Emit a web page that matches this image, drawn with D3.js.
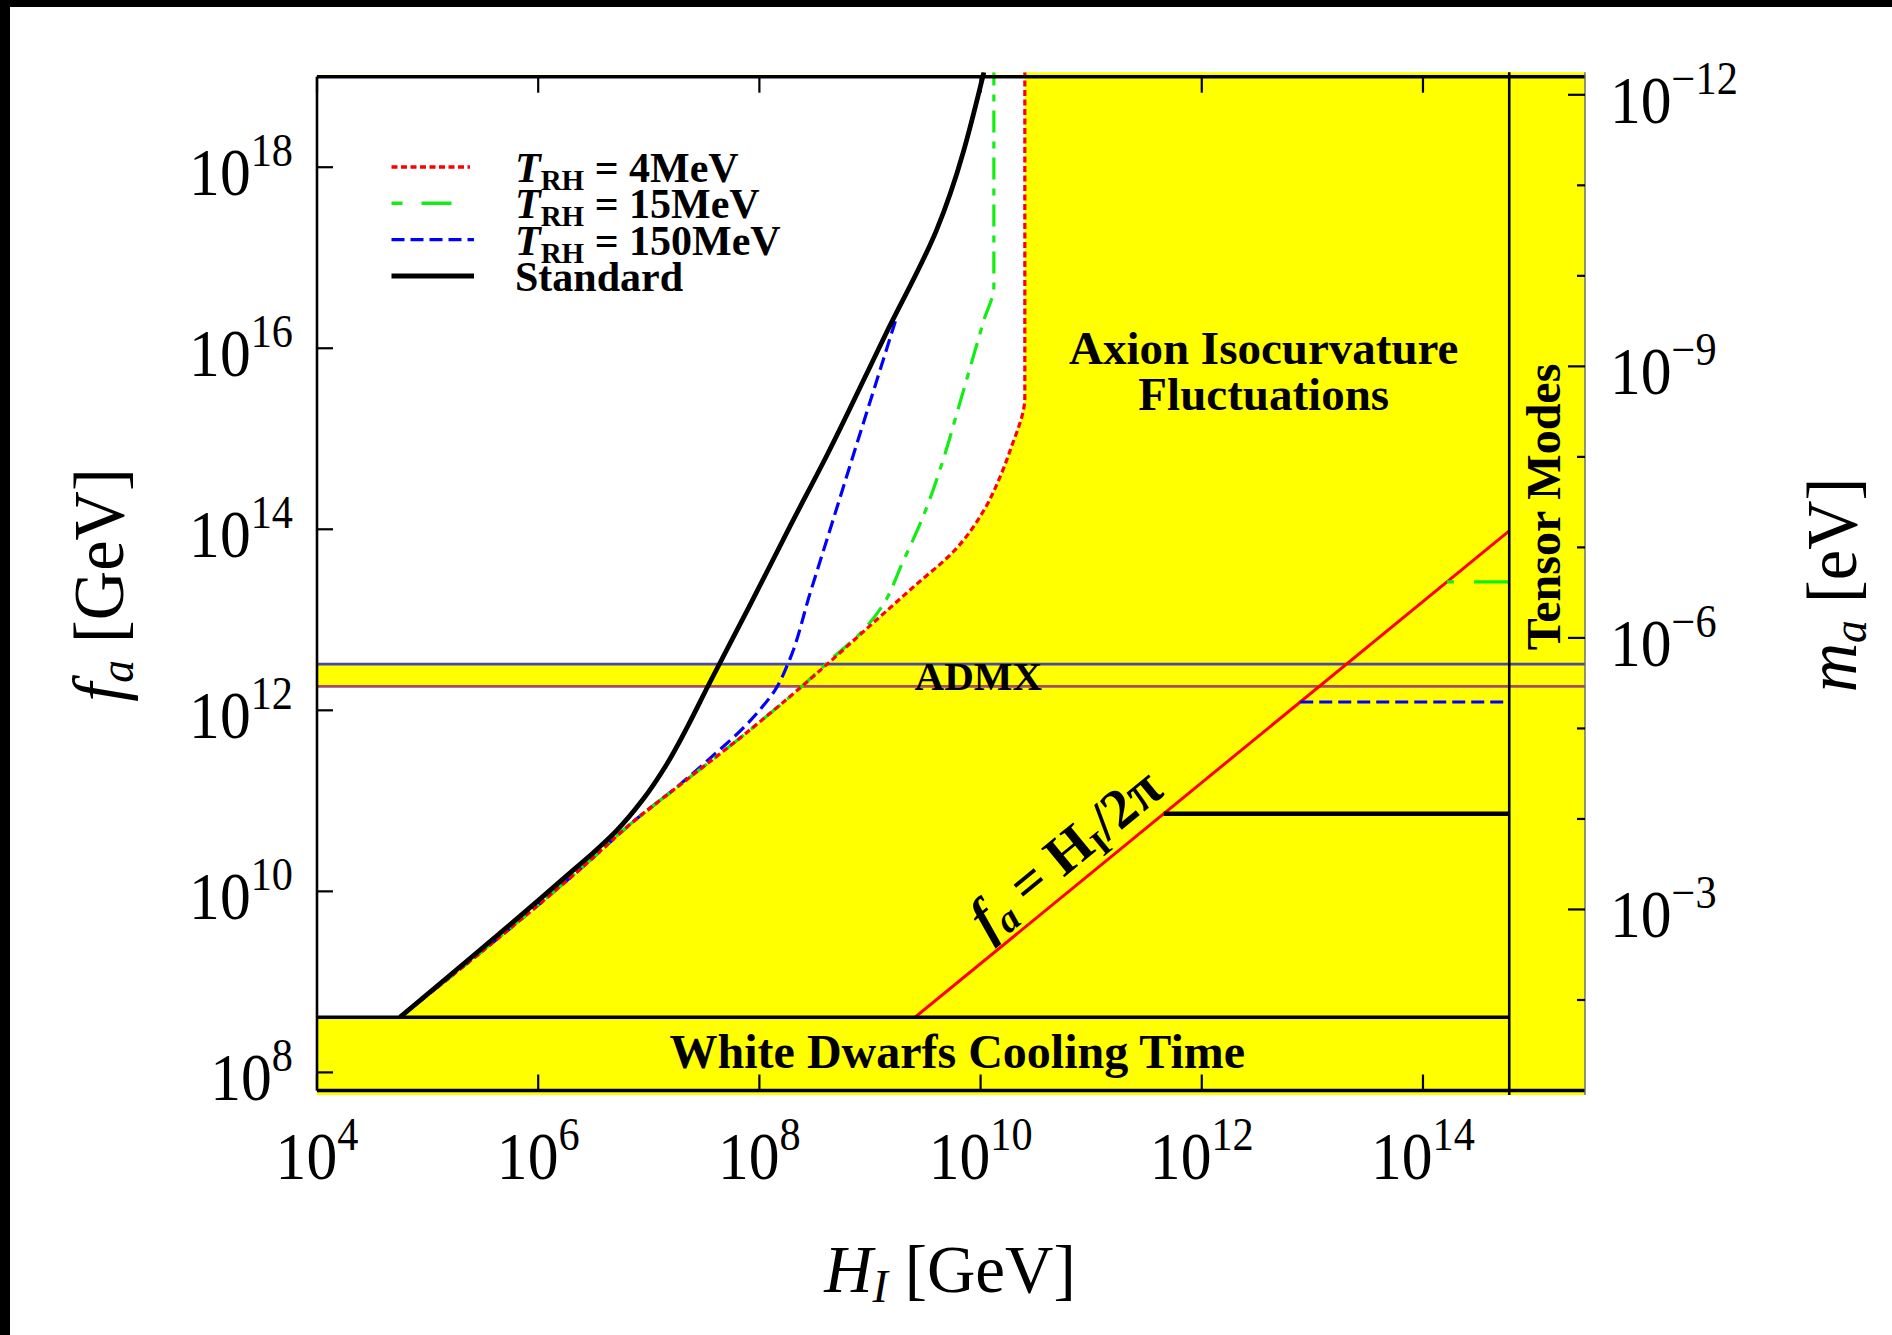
<!DOCTYPE html>
<html>
<head>
<meta charset="utf-8">
<script src="https://cdn.jsdelivr.net/npm/d3@7"></script>
<style>
  html, body { margin: 0; padding: 0; background: #fff; }
  svg { display: block; font-family: "Liberation Serif", "Times New Roman", serif; }
</style>
</head>
<body>
<svg id="chart" width="1892" height="1335"></svg>
<script>
// all values are log10 of the quantity (H_I and f_a in GeV, m_a in eV)
const xExtent = [4, 15.465];
const yExtent = [7.8, 19.0];
const xTicks = [4, 6, 8, 10, 12, 14];
const yTicks = [8, 10, 12, 14, 16, 18];
const massTicks = [-12, -11, -10, -9, -8, -7, -6, -5, -4, -3, -2];
const massLabels = [-12, -9, -6, -3];
const massShift = 6.8;            // log m_a = 6.8 - log f_a

const whiteDwarfF = 8.61;
const tensorH = 14.78;
const admxF = [12.265, 12.51];
const twoPi = Math.log10(2 * Math.PI);
const diagonalH = [9.41, 14.78]; // f_a = H_I / 2pi

// boundary curves [log H_I, log f_a]
const standardCurve = [[4.75, 8.61], [6.02, 9.92], [6.34, 10.26], [6.50, 10.43], [6.70, 10.66], [6.95, 11.02],
  [7.15, 11.38], [7.35, 11.82], [7.54, 12.28], [7.91, 13.15], [8.28, 14.04], [8.62, 14.84], [9.14, 16.15],
  [9.60, 17.30], [10.03, 19.05]];
const curve4MeV = [[4.75, 8.61], [6.43, 10.30], [6.85, 10.76], [7.36, 11.25], [7.82, 11.69], [8.37, 12.25],
  [8.65, 12.55], [9.06, 13.00], [9.39, 13.36], [9.76, 13.76], [10.03, 14.21], [10.18, 14.59], [10.27, 14.88],
  [10.40, 15.46], [10.40, 19.05]];
const curve15MeV = [[4.75, 8.61], [6.43, 10.30], [6.85, 10.76], [7.36, 11.25], [7.82, 11.69], [8.37, 12.25],
  [8.69, 12.61], [8.92, 12.86], [9.11, 13.15], [9.29, 13.62], [9.48, 14.14], [9.67, 14.80], [9.79, 15.30],
  [10.03, 16.31], [10.12, 16.68], [10.12, 19.05]];
const curve150MeV = [[4.75, 8.61], [6.43, 10.30], [6.85, 10.76], [7.26, 11.16], [7.60, 11.52], [7.85, 11.80],
  [8.00, 12.00], [8.14, 12.22], [8.26, 12.52], [8.46, 13.30], [8.65, 14.04], [8.88, 14.94], [9.05, 15.60],
  [9.24, 16.34]];

// horizontal limits between f_a = H_I/2pi and the tensor bound
const plateauF = [10.858, 12.092, 13.418];
const plateauStyle = ['standard', '150', '15'];

const legendNames = ['4MeV', '15MeV', '150MeV', 'Standard'];
const legendColors = ['#ff0000', '#11ee11', '#0000ff', '#000000'];
const legendDash = ['6,3.5', '22,9,7,9', '13,6', null];

const svg = d3.select('#chart');
const x = d3.scaleLog().domain(xExtent.map(e => 10 ** e)).range([317, 1585]);
const y = d3.scaleLog().domain(yExtent.map(e => 10 ** e)).range([1090.5, 76.7]);
const yMass = d3.scaleLog().domain(yExtent.map(e => 10 ** (massShift - e))).range([1090.5, 76.7]);
const px = e => x(10 ** e), py = e => y(10 ** e);

const smooth = d3.line().x(d => px(d[0])).y(d => py(d[1])).curve(d3.curveMonotoneY);
const straight = d3.line().x(d => px(d[0])).y(d => py(d[1]));

// photo borders
svg.append('rect').attr('x', 0).attr('y', 0).attr('width', 1892).attr('height', 7).attr('fill', '#000');
svg.append('rect').attr('x', 0).attr('y', 0).attr('width', 10).attr('height', 1335).attr('fill', '#000');

const x0 = px(xExtent[0]), x1 = px(xExtent[1]);
const yTop = py(19.05), yBot = py(yExtent[0]) + 4.5;

svg.append('defs').append('clipPath').attr('id', 'clip')
  .append('rect').attr('x', x0).attr('y', yTop).attr('width', x1 - x0).attr('height', yBot - yTop);

// excluded region (yellow) with the allowed region cut out in white
svg.append('rect').attr('x', x0).attr('y', yTop).attr('width', x1 - x0).attr('height', yBot - yTop)
  .attr('fill', '#ffff00');
svg.append('path')
  .attr('d', smooth(curve4MeV) + straight([[xExtent[0], 19.05], [xExtent[0], whiteDwarfF]]).replace('M', 'L') + 'Z')
  .attr('fill', '#fff');

// ADMX band
svg.append('rect').attr('x', x0).attr('y', py(admxF[1])).attr('width', x1 - x0)
  .attr('height', py(admxF[0]) - py(admxF[1])).attr('fill', '#ffff00');
svg.append('line').attr('x1', x0).attr('x2', x1).attr('y1', py(admxF[1])).attr('y2', py(admxF[1]))
  .attr('stroke', '#4a4aa6').attr('stroke-width', 2.6);
svg.append('line').attr('x1', x0).attr('x2', x1).attr('y1', py(admxF[0])).attr('y2', py(admxF[0]))
  .attr('stroke', '#a34d6a').attr('stroke-width', 2.6);

const plot = svg.append('g').attr('clip-path', 'url(#clip)');

function curve(gen, data, color, width, dash) {
  plot.append('path').attr('d', gen(data)).attr('fill', 'none')
    .attr('stroke', color).attr('stroke-width', width)
    .attr('stroke-dasharray', dash).attr('stroke-linejoin', 'round');
}
curve(smooth, curve150MeV, legendColors[2], 3.2, legendDash[2]);
curve(smooth, curve15MeV, legendColors[1], 3.2, legendDash[1]);
curve(smooth, curve4MeV, legendColors[0], 3.2, legendDash[0]);
curve(smooth, standardCurve, '#000', 4.8, null);

// f_a = H_I / 2pi
const diag = diagonalH.map(h => [h, h - twoPi]);
curve(straight, diag, '#ff0000', 3, null);

// plateaus
plateauF.forEach((f, i) => {
  const seg = [[f + twoPi, f], [tensorH, f]];
  if (plateauStyle[i] === 'standard') curve(straight, seg, '#000', 4.6, null);
  if (plateauStyle[i] === '150') curve(straight, seg, legendColors[2], 3.2, legendDash[2]);
  if (plateauStyle[i] === '15') curve(straight, seg, legendColors[1], 3.2, '7,20,28,0');
});

// white dwarf and tensor bounds
svg.append('line').attr('x1', x0).attr('x2', px(tensorH)).attr('y1', py(whiteDwarfF)).attr('y2', py(whiteDwarfF))
  .attr('stroke', '#000').attr('stroke-width', 3.4);
svg.append('line').attr('x1', px(tensorH)).attr('x2', px(tensorH)).attr('y1', yTop).attr('y2', yBot)
  .attr('stroke', '#000').attr('stroke-width', 2.6);

// frame
const yT = py(yExtent[1]), yB = py(yExtent[0]);
svg.append('line').attr('x1', x0).attr('x2', x1).attr('y1', yT).attr('y2', yT).attr('stroke', '#000').attr('stroke-width', 3.4);
svg.append('line').attr('x1', x0).attr('x2', x1).attr('y1', yB).attr('y2', yB).attr('stroke', '#000').attr('stroke-width', 3.6);
svg.append('line').attr('x1', x0).attr('x2', x0).attr('y1', yT).attr('y2', yB).attr('stroke', '#000').attr('stroke-width', 2.6);
svg.append('line').attr('x1', x1).attr('x2', x1).attr('y1', yTop).attr('y2', yBot).attr('stroke', '#666').attr('stroke-width', 1.4);

// ticks
const ticks = svg.append('g').attr('stroke', '#000').attr('stroke-width', 2.2);
xTicks.forEach(e => {
  ticks.append('line').attr('x1', px(e)).attr('x2', px(e)).attr('y1', yB).attr('y2', yB - 16);
  ticks.append('line').attr('x1', px(e)).attr('x2', px(e)).attr('y1', yT).attr('y2', yT + 16);
});
yTicks.forEach(e => {
  ticks.append('line').attr('x1', x0).attr('x2', x0 + 16).attr('y1', py(e)).attr('y2', py(e));
});
massTicks.forEach(e => {
  const len = massLabels.includes(e) ? 17 : 8;
  const yy = yMass(10 ** e);
  ticks.append('line').attr('x1', x1).attr('x2', x1 - len).attr('y1', yy).attr('y2', yy);
});

// power-of-ten labels
function powLabel(exp, xp, yp, anchor) {
  const t = svg.append('text').attr('transform', `translate(${xp},${yp}) scale(0.92,1)`)
    .attr('text-anchor', anchor).attr('font-size', 67).attr('fill', '#000');
  t.append('tspan').text('10');
  t.append('tspan').attr('dy', -29).attr('font-size', 46).text(exp < 0 ? '\u2212' + (-exp) : exp);
}
xTicks.forEach(e => powLabel(e, px(e), 1179, 'middle'));
yTicks.forEach(e => powLabel(e, 293, py(e) + 28, 'end'));
massLabels.forEach(e => powLabel(e, 1610, yMass(10 ** e) + 28, 'start'));

// axis titles
const xt = svg.append('text').attr('x', 950).attr('y', 1292).attr('text-anchor', 'middle').attr('font-size', 67);
xt.append('tspan').attr('font-style', 'italic').text('H');
xt.append('tspan').attr('font-style', 'italic').attr('font-size', 46).attr('dy', 10).text('I');
xt.append('tspan').attr('dy', -10).text(' [GeV]');

function sideTitle(xp, sym, unit) {
  const t = svg.append('text').attr('transform', `translate(${xp},585) rotate(-90) scale(0.95,1)`)
    .attr('text-anchor', 'middle').attr('font-size', 72);
  t.append('tspan').attr('font-style', 'italic').text(sym);
  t.append('tspan').attr('font-style', 'italic').attr('font-size', 48).attr('dy', 10).text('a');
  t.append('tspan').attr('dy', -10).text(' ' + unit);
}
sideTitle(123, 'f', '[GeV]');
sideTitle(1856, 'm', '[eV]');

// legend
const lg = svg.append('g').attr('font-weight', 'bold').attr('font-size', 42);
legendNames.forEach((name, i) => {
  const ly = 167 + i * 36.3;
  lg.append('line').attr('x1', 391.5).attr('x2', [470, 452, 474, 474][i]).attr('y1', ly).attr('y2', ly)
    .attr('stroke', legendColors[i]).attr('stroke-width', i === 3 ? 5 : 3.4)
    .attr('stroke-dasharray', i === 1 ? '11,19,30,20' : legendDash[i]);
  const t = lg.append('text').attr('x', 515).attr('y', ly + 15);
  if (name === 'Standard') { t.text(name); return; }
  t.append('tspan').attr('font-style', 'italic').text('T');
  t.append('tspan').attr('font-size', 29).attr('dy', 8).text('RH');
  t.append('tspan').attr('dy', -8).text(' = ' + name);
});

// region labels
const bold = (txt, xp, yp, size) => svg.append('text').attr('x', xp).attr('y', yp)
  .attr('text-anchor', 'middle').attr('font-weight', 'bold').attr('font-size', size).text(txt);
bold('Axion Isocurvature', px(12.56), 364, 47);
bold('Fluctuations', px(12.56), 410, 47);
bold('ADMX', px(9.98), 690, 41);
bold('White Dwarfs Cooling Time', px(9.79), 1068, 48);
svg.append('text').attr('transform', `translate(1560,507) rotate(-90)`).attr('text-anchor', 'middle')
  .attr('font-weight', 'bold').attr('font-size', 48).text('Tensor Modes');

// f_a = H_I/2pi label along the red line
const a = diag[0], b = diag[1];
const ang = Math.atan2(py(b[1]) - py(a[1]), px(b[0]) - px(a[0])) * 180 / Math.PI;
const mid = [10.95, 10.95 - twoPi];
const fl = svg.append('text').attr('transform', `translate(${px(mid[0])},${py(mid[1])}) rotate(${ang})`)
  .attr('y', -14).attr('text-anchor', 'middle').attr('font-weight', 'bold').attr('font-size', 56);
fl.append('tspan').attr('font-style', 'italic').text('f');
fl.append('tspan').attr('font-style', 'italic').attr('font-size', 38).attr('dy', 9).text('a');
fl.append('tspan').attr('dy', -9).text(' = H');
fl.append('tspan').attr('font-size', 36).attr('dy', 9).text('I');
fl.append('tspan').attr('dy', -9).text('/2\u03c0');
</script>
</body>
</html>
